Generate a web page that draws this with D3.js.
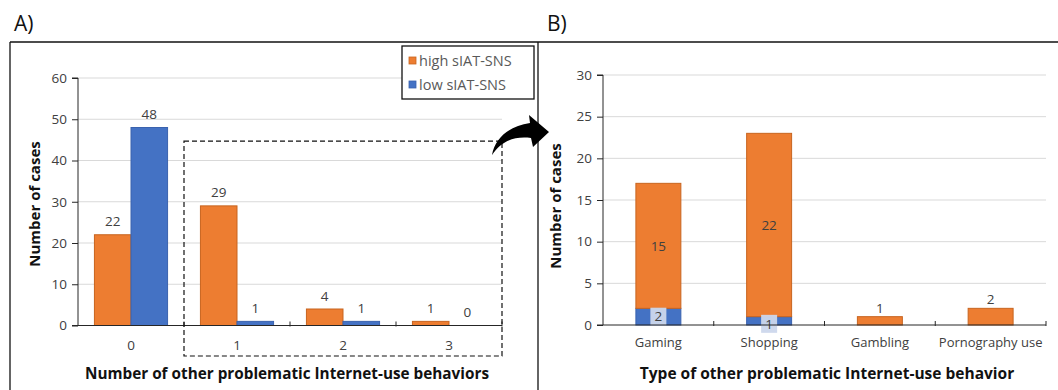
<!DOCTYPE html>
<html>
<head>
<meta charset="utf-8">
<script src="https://cdn.jsdelivr.net/npm/d3@7"></script>
<style>
  html, body { margin: 0; padding: 0; background: #fff; }
  svg { display: block; font-family: "Open Sans", "Noto Sans", sans-serif; }
</style>
</head>
<body>
<svg id="chart" width="1058" height="390"></svg>
<script>
// ---------- Data ----------
const countCategories = ["0", "1", "2", "3"];
const highCounts = [22, 29, 4, 1];
const lowCounts = [48, 1, 1, 0];
const seriesNames = ["high sIAT-SNS", "low sIAT-SNS"];

const typeCategories = ["Gaming", "Shopping", "Gambling", "Pornography use"];
const typeHigh = [15, 22, 1, 2];
const typeLow = [2, 1, 0, 0];

const ticksA = [0, 10, 20, 30, 40, 50, 60];
const ticksB = [0, 5, 10, 15, 20, 25, 30];

const titleAxA = "Number of other problematic Internet-use behaviors";
const titleAxB = "Type of other problematic Internet-use behavior";
const titleY = "Number of cases";

// ---------- Styles ----------
const ORANGE = "#ED7D31", ORANGE_EDGE = "#C8641F";
const BLUE = "#4472C4", BLUE_EDGE = "#3A62AE";
const GRID = "#D9D9D9", AXIS = "#262626", TXT = "#404040";

const svg = d3.select("#chart");
svg.append("rect").attr("width", 1058).attr("height", 390).attr("fill", "#fff");

// frame
const frame = svg.append("g").attr("stroke", "#111").attr("stroke-width", 1.3);
frame.append("line").attr("x1", 10).attr("x2", 1058).attr("y1", 42).attr("y2", 42);
frame.append("line").attr("x1", 10).attr("x2", 10).attr("y1", 42).attr("y2", 390);
frame.append("line").attr("x1", 538).attr("x2", 538).attr("y1", 42).attr("y2", 390);

svg.append("text").attr("x", 14).attr("y", 31).attr("font-size", 21).attr("fill", "#111").text("A)");
svg.append("text").attr("x", 547).attr("y", 31).attr("font-size", 21).attr("fill", "#111").text("B)");

// ---------- Panel A ----------
const xA = d3.scaleBand().domain(countCategories).range([78, 502]).paddingInner(0.31).paddingOuter(0.155);
const subA = d3.scaleBand().domain(["high", "low"]).range([0, xA.bandwidth()]);
const yA = d3.scaleLinear().domain([0, 60]).range([325.5, 78]);

const gA = svg.append("g");
// gridlines
gA.append("g").selectAll("line").data(ticksA.filter(t => t > 0)).join("line")
  .attr("x1", 78).attr("x2", 502).attr("y1", d => yA(d)).attr("y2", d => yA(d))
  .attr("stroke", GRID).attr("stroke-width", 1);

// bars
const dataA = countCategories.map((c, i) => ({ c, high: highCounts[i], low: lowCounts[i] }));
const grpA = gA.append("g").selectAll("g").data(dataA).join("g")
  .attr("transform", d => `translate(${xA(d.c)},0)`);
grpA.selectAll("rect").data(d => [{ k: "high", v: d.high }, { k: "low", v: d.low }]).join("rect")
  .attr("x", d => subA(d.k)).attr("width", subA.bandwidth())
  .attr("y", d => yA(d.v)).attr("height", d => yA(0) - yA(d.v))
  .attr("fill", d => d.k === "high" ? ORANGE : BLUE)
  .attr("stroke", d => d.v > 0 ? (d.k === "high" ? ORANGE_EDGE : BLUE_EDGE) : "none")
  .attr("stroke-width", 1);
grpA.selectAll("text").data(d => [{ k: "high", v: d.high }, { k: "low", v: d.low }]).join("text")
  .attr("x", d => subA(d.k) + subA.bandwidth() / 2)
  .attr("y", d => yA(d.v) - 8.5)
  .attr("text-anchor", "middle").attr("font-size", 13.5).attr("fill", TXT)
  .text(d => d.v);

// y axis
const yAxA = gA.append("g").attr("transform", "translate(78,0)")
  .call(d3.axisLeft(yA).tickValues(ticksA).tickSize(6).tickPadding(5));
yAxA.select(".domain").attr("stroke", AXIS).attr("d", `M-6,${yA(60)}H0V${yA(0)}`);
yAxA.selectAll(".tick line").attr("stroke", AXIS);
yAxA.selectAll(".tick text").attr("font-size", 13.5).attr("fill", TXT).attr("font-family", "Open Sans");

// x axis
const xAxA = gA.append("g").attr("transform", `translate(0,${yA(0)})`)
  .call(d3.axisBottom(xA).tickSize(0).tickPadding(15));
xAxA.select(".domain").attr("stroke", AXIS).attr("d", `M72,0H502`);
xAxA.selectAll(".tick text").attr("font-size", 13.5).attr("fill", TXT).attr("font-family", "Open Sans");
gA.append("g").selectAll("line").data(d3.range(1, countCategories.length + 1)).join("line")
  .attr("x1", i => 78 + i * xA.step()).attr("x2", i => 78 + i * xA.step())
  .attr("y1", yA(0) - 4).attr("y2", yA(0) + 1).attr("stroke", AXIS);

// axis titles
gA.append("text").attr("x", 287).attr("y", 379).attr("text-anchor", "middle")
  .attr("font-size", 15.3).attr("font-weight", "bold").attr("fill", "#111").text(titleAxA);
gA.append("text").attr("transform", `translate(40,${204}) rotate(-90)`).attr("text-anchor", "middle")
  .attr("font-size", 15).attr("font-weight", "bold").attr("fill", "#111").text(titleY);

// dashed box (annotation around categories 1-3)
const boxLeft = 78 + xA.step();
gA.append("rect").attr("x", boxLeft).attr("y", yA(44.7)).attr("width", 502 - boxLeft).attr("height", 356 - yA(44.7))
  .attr("fill", "none").attr("stroke", "#111").attr("stroke-width", 1.2).attr("stroke-dasharray", "5,3");

// legend
const leg = gA.append("g");
leg.append("rect").attr("x", 402).attr("y", 46).attr("width", 132).attr("height", 53)
  .attr("fill", "#fff").attr("stroke", "#111").attr("stroke-width", 1.3);
seriesNames.forEach((s, i) => {
  const yy = 61 + i * 24;
  leg.append("rect").attr("x", 409).attr("y", yy - 4).attr("width", 7).attr("height", 7)
    .attr("fill", i === 0 ? ORANGE : BLUE).attr("stroke", i === 0 ? ORANGE_EDGE : BLUE_EDGE).attr("stroke-width", 0.8);
  leg.append("text").attr("x", 419).attr("y", yy + 5).attr("font-size", 14.5).attr("fill", "#595959").text(s);
});

// curved arrow
svg.append("path")
  .attr("d", "M492,155 C495,138 509,126 530,123 L529,115 L549,132 L533,147 L531,138 C514,136 501,141 492,155 Z")
  .attr("fill", "#000");

// ---------- Panel B ----------
const xB = d3.scaleBand().domain(typeCategories).range([603, 1046]).paddingInner(0.594).paddingOuter(0.297);
const yB = d3.scaleLinear().domain([0, 30]).range([325, 75]);
const gB = svg.append("g");

gB.append("g").selectAll("line").data(ticksB.filter(t => t > 0)).join("line")
  .attr("x1", 603).attr("x2", 1046).attr("y1", d => yB(d)).attr("y2", d => yB(d))
  .attr("stroke", GRID).attr("stroke-width", 1);

const dataB = typeCategories.map((c, i) => ({ c, low: typeLow[i], high: typeHigh[i] }));
const stack = d3.stack().keys(["low", "high"])(dataB);
const layers = gB.append("g").selectAll("g").data(stack).join("g")
  .attr("fill", d => d.key === "high" ? ORANGE : BLUE)
  .attr("stroke", d => d.key === "high" ? ORANGE_EDGE : BLUE_EDGE);
layers.selectAll("rect").data(d => d.filter(s => s[1] > s[0])).join("rect")
  .attr("x", s => xB(s.data.c)).attr("width", xB.bandwidth())
  .attr("y", s => yB(s[1])).attr("height", s => yB(s[0]) - yB(s[1]))
  .attr("stroke-width", 1);

// labels
stack.forEach(layer => {
  layer.forEach(s => {
    const v = s[1] - s[0];
    if (v <= 0) return;
    const cx = xB(s.data.c) + xB.bandwidth() / 2;
    const segH = yB(s[0]) - yB(s[1]);
    if (layer.key === "high" && s[0] === 0) {
      gB.append("text").attr("x", cx).attr("y", yB(s[1]) - 4).attr("text-anchor", "middle")
        .attr("font-size", 13.5).attr("fill", TXT).text(v);
    } else if (layer.key === "high") {
      gB.append("text").attr("x", cx).attr("y", (yB(s[0]) + yB(s[1])) / 2 + 4.8).attr("text-anchor", "middle")
        .attr("font-size", 13.5).attr("fill", TXT).text(v);
    } else {
      const cy = (yB(s[0]) + yB(s[1])) / 2 + (segH < 12 ? 3 : 0);
      gB.append("rect").attr("x", cx - 8).attr("y", cy - 9).attr("width", 16).attr("height", 18)
        .attr("fill", "#CCD7EC").attr("opacity", 0.95);
      gB.append("text").attr("x", cx).attr("y", cy + 4.8).attr("text-anchor", "middle")
        .attr("font-size", 13.5).attr("fill", TXT).text(v);
    }
  });
});

const yAxB = gB.append("g").attr("transform", "translate(603,0)")
  .call(d3.axisLeft(yB).tickValues(ticksB).tickSize(6).tickPadding(5));
yAxB.select(".domain").attr("stroke", AXIS).attr("d", `M-6,${yB(30)}H0V${yB(0)}`);
yAxB.selectAll(".tick line").attr("stroke", AXIS);
yAxB.selectAll(".tick text").attr("font-size", 13.5).attr("fill", TXT).attr("font-family", "Open Sans");

const xAxB = gB.append("g").attr("transform", `translate(0,${yB(0)})`)
  .call(d3.axisBottom(xB).tickSize(0).tickPadding(13));
xAxB.select(".domain").attr("stroke", AXIS).attr("d", `M597,0H1046`);
xAxB.selectAll(".tick text").attr("font-size", 13).attr("fill", TXT).attr("font-family", "Open Sans");
gB.append("g").selectAll("line").data(d3.range(1, typeCategories.length + 1)).join("line")
  .attr("x1", i => 603 + i * xB.step()).attr("x2", i => 603 + i * xB.step())
  .attr("y1", yB(0) - 4).attr("y2", yB(0) + 1).attr("stroke", AXIS);

gB.append("text").attr("x", 827).attr("y", 379).attr("text-anchor", "middle")
  .attr("font-size", 15.5).attr("font-weight", "bold").attr("fill", "#111").text(titleAxB);
gB.append("text").attr("transform", `translate(561,${206}) rotate(-90)`).attr("text-anchor", "middle")
  .attr("font-size", 15).attr("font-weight", "bold").attr("fill", "#111").text(titleY);
</script>
</body>
</html>
